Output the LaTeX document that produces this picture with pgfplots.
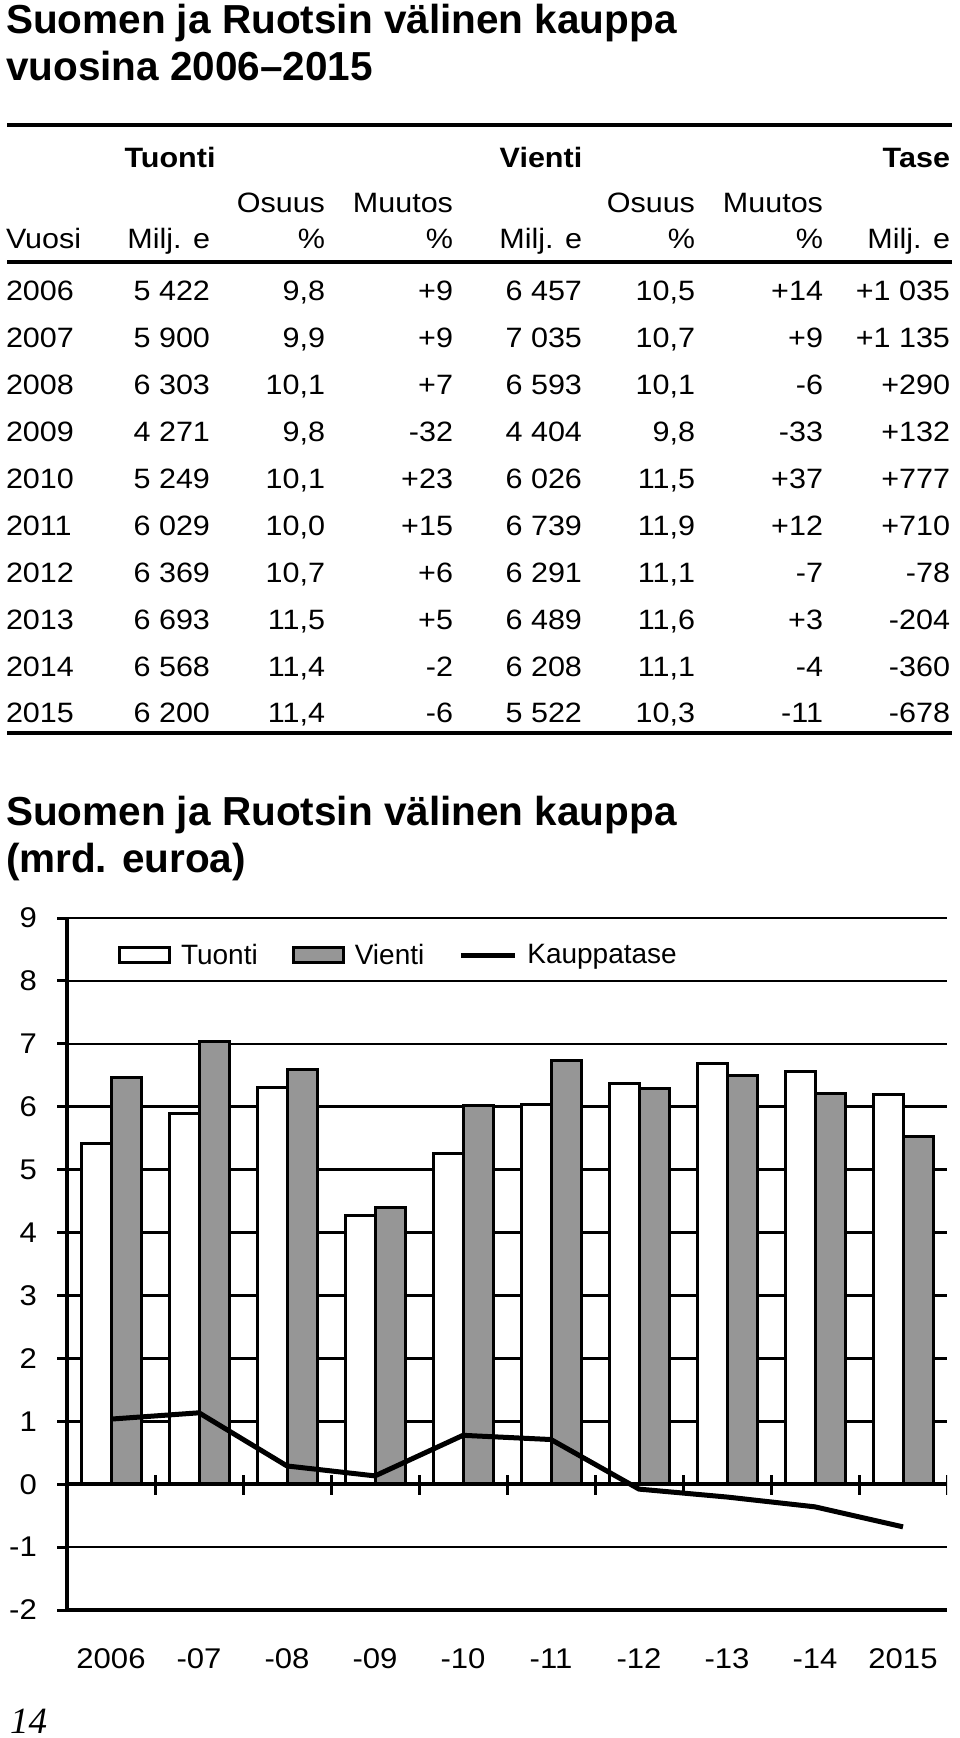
\documentclass[border=0pt]{standalone}
\usepackage{fontspec}
\setmainfont{Liberation Sans}
\newfontfamily\wide[FakeStretch=1.09]{Liberation Sans}
\newfontfamily\serif{Liberation Serif}
\usepackage{pgfplots}
\pgfplotsset{compat=1.18}
\definecolor{barg}{RGB}{150,150,150}

% one table row: baseline y, then the eight cells
\newcommand\trow[9]{%
  \node[anchor=base west] at (6,#1) {#2};
  \node[anchor=base east] at (210,#1) {#3};
  \node[anchor=base east] at (325,#1) {#4};
  \node[anchor=base east] at (453,#1) {#5};
  \node[anchor=base east] at (582,#1) {#6};
  \node[anchor=base east] at (695,#1) {#7};
  \node[anchor=base east] at (823,#1) {#8};
  \node[anchor=base east] at (950,#1) {#9};}

\begin{document}
\begin{tikzpicture}
\begin{scope}[x=1pt,y=-1pt,every node/.style={inner sep=0pt,outer sep=0pt}]
\path[use as bounding box] (0,0) rectangle (960,1738);

\node[anchor=base west,font=\fontsize{40.5}{47}\selectfont\bfseries] at (6,33) {Suomen ja Ruotsin välinen kauppa};
\node[anchor=base west,font=\fontsize{40.5}{47}\selectfont\bfseries] at (6,80) {vuosina 2006--2015};

\draw[line width=4pt] (7,125) -- (952,125);
\draw[line width=4pt] (7,262) -- (952,262);
\draw[line width=3.5pt] (7,733) -- (952,733);

\begin{scope}[every node/.append style={font=\wide\fontsize{28}{32}\selectfont}]
\node[anchor=base,font=\wide\fontsize{28}{32}\selectfont\bfseries] at (170,167) {Tuonti};
\node[anchor=base,font=\wide\fontsize{28}{32}\selectfont\bfseries] at (541,167) {Vienti};
\node[anchor=base east,font=\wide\fontsize{28}{32}\selectfont\bfseries] at (950,167) {Tase};
\node[anchor=base east] at (325,212) {Osuus};
\node[anchor=base east] at (453,212) {Muutos};
\node[anchor=base east] at (695,212) {Osuus};
\node[anchor=base east] at (823,212) {Muutos};
\trow{248}{Vuosi}{Milj. e}{\%}{\%}{Milj. e}{\%}{\%}{Milj. e}
\trow{300}{2006}{5 422}{9,8}{+9}{6 457}{10,5}{+14}{+1 035}
\trow{347}{2007}{5 900}{9,9}{+9}{7 035}{10,7}{+9}{+1 135}
\trow{394}{2008}{6 303}{10,1}{+7}{6 593}{10,1}{-6}{+290}
\trow{441}{2009}{4 271}{9,8}{-32}{4 404}{9,8}{-33}{+132}
\trow{488}{2010}{5 249}{10,1}{+23}{6 026}{11,5}{+37}{+777}
\trow{535}{2011}{6 029}{10,0}{+15}{6 739}{11,9}{+12}{+710}
\trow{582}{2012}{6 369}{10,7}{+6}{6 291}{11,1}{-7}{-78}
\trow{629}{2013}{6 693}{11,5}{+5}{6 489}{11,6}{+3}{-204}
\trow{676}{2014}{6 568}{11,4}{-2}{6 208}{11,1}{-4}{-360}
\trow{722}{2015}{6 200}{11,4}{-6}{5 522}{10,3}{-11}{-678}
\end{scope}

\node[anchor=base west,font=\fontsize{40.5}{47}\selectfont\bfseries] at (6,825) {Suomen ja Ruotsin välinen kauppa};
\node[anchor=base west,font=\fontsize{40.5}{47}\selectfont\bfseries] at (6,872) {(mrd. euroa)};

\node[anchor=base west,font=\serif\itshape\fontsize{37}{40}\selectfont] at (10,1733) {14};
\end{scope}

\begin{axis}[
  at={(67pt,-1610pt)}, anchor=south west,
  scale only axis, width=880pt, height=692pt,
  xmin=0.5, xmax=10.5, ymin=-2, ymax=9,
  axis x line*=bottom, axis y line*=left,
  axis line style={line width=3.5pt},
  xtick={1,...,10},
  xticklabels={2006,-07,-08,-09,-10,-11,-12,-13,-14,2015},
  x tick style={draw=none},
  ytick={-2,...,9},
  yticklabels={-2,-1,0,1,2,3,4,5,6,7,8,9},
  y tick style={line width=3pt, black},
  tick align=outside,
  major tick length=10pt,
  ymajorgrids, grid style={line width=2.5pt, black},
  tick label style={font=\wide\fontsize{28.5}{32}\selectfont, inner sep=0pt},
  xticklabel style={anchor=base, yshift=-48pt},
  yticklabel style={anchor=east, xshift=-20pt},
  legend columns=3,
  legend style={draw=none, fill=none, inner sep=0pt, outer sep=0pt,
    at={(0.058,0.9465)}, anchor=west,
    font=\fontsize{28}{32}\selectfont,
    nodes={inner sep=0pt},
    /tikz/every odd column/.append style={column sep=10pt},
    /tikz/every even column/.append style={column sep=34pt}},
]
\addplot[ybar, bar width=30pt, bar shift=-15pt, fill=white, draw=black, line width=3pt,
  legend image code/.code={\draw[fill=white,draw=black,line width=3pt] (0pt,-7.5pt) rectangle (50pt,7.5pt);}]
  coordinates {(1,5.422) (2,5.900) (3,6.303) (4,4.271) (5,5.249) (6,6.029) (7,6.369) (8,6.693) (9,6.568) (10,6.200)};
\addlegendentry{Tuonti}
\addplot[ybar, bar width=30pt, bar shift=15pt, fill=barg, draw=black, line width=3pt,
  legend image code/.code={\draw[fill=barg,draw=black,line width=3pt] (0pt,-7.5pt) rectangle (50pt,7.5pt);}]
  coordinates {(1,6.457) (2,7.035) (3,6.593) (4,4.404) (5,6.026) (6,6.739) (7,6.291) (8,6.489) (9,6.208) (10,5.522)};
\addlegendentry{Vienti}
\draw[line width=3.5pt] (axis cs:0.5,0) -- (axis cs:10.5,0);
\pgfplotsinvokeforeach{1.5,2.5,...,10.5}{\draw[line width=3pt] (axis cs:#1,0) ++(0pt,9pt) -- ++(0pt,-20pt);}
\addplot[sharp plot, black, line width=5pt, line join=round, no markers,
  legend image code/.code={\draw[black,line width=5pt] (0pt,0pt) -- (54pt,0pt);}]
  coordinates {(1,1.035) (2,1.135) (3,0.290) (4,0.132) (5,0.777) (6,0.710) (7,-0.078) (8,-0.204) (9,-0.360) (10,-0.678)};
\addlegendentry{Kauppatase}
\end{axis}
\end{tikzpicture}
\end{document}
